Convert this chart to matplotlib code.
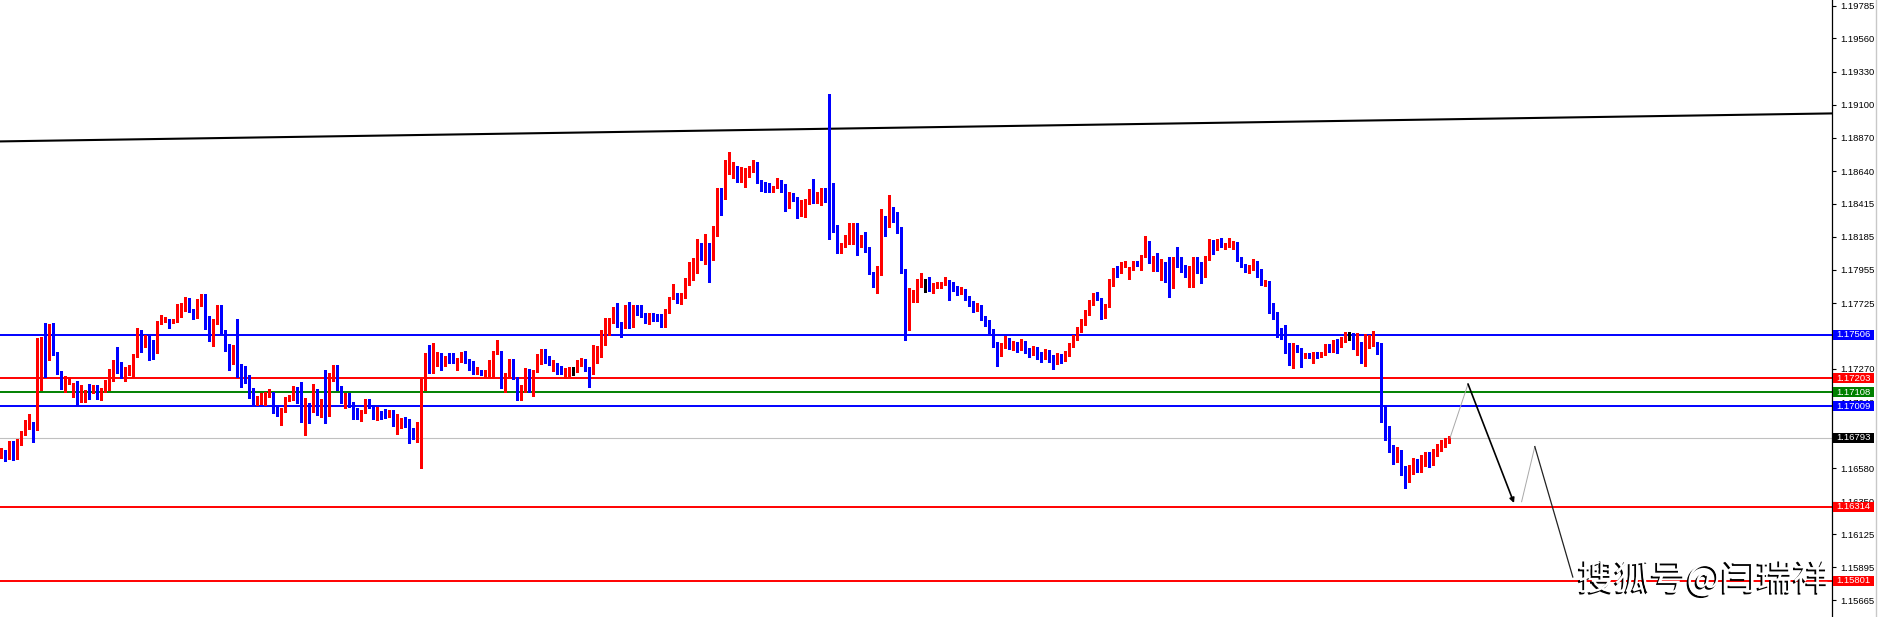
"""EURUSD-style candlestick chart with support/resistance levels (MT4 look)."""

import numpy as np
import matplotlib

matplotlib.use("Agg")
import matplotlib.pyplot as plt
import matplotlib.patheffects as pe
from matplotlib.lines import Line2D
from matplotlib.patches import Rectangle
from matplotlib.transforms import blended_transform_factory

# Candles, prices in points (1 point = 0.00001)
open_pts = [
    116666, 116707, 116652, 116763, 116680, 116763, 116825, 116867, 116902, 116853,
    117324, 117484, 117352, 117574, 117380, 117248, 117151, 117172, 117103, 117151,
    117047, 117109, 117123, 117116, 117137, 117075, 117109, 117137, 117248, 117324,
    117303, 117213, 117241, 117276, 117359, 117498, 117435, 117491, 117394, 117380,
    117595, 117608, 117615, 117588, 117601, 117671, 117698, 117740, 117678, 117629,
    117712, 117775, 117636, 117511, 117581, 117664, 117532, 117415, 117359, 117415,
    117297, 117213, 117179, 117089, 117047, 117047, 117033, 117096, 117109, 117019,
    116964, 116978, 117061, 117068, 117137, 117075, 116964, 117012, 116992, 117123,
    116985, 117040, 116992, 117193, 117269, 117137, 117040, 117054, 117033, 116992,
    116915, 116971, 117019, 117012, 116922, 116964, 116957, 116943, 116985, 116881,
    116895, 116922, 116908, 116846, 116811, 116818, 117144, 117380, 117262, 117297,
    117359, 117303, 117359, 117359, 117262, 117324, 117380, 117324, 117317, 117241,
    117262, 117241, 117241, 117297, 117380, 117394, 117158, 117206, 117338, 117213,
    117123, 117123, 117241, 117123, 117255, 117310, 117401, 117352, 117262, 117303,
    117276, 117241, 117248, 117262, 117262, 117297, 117331, 117276, 117234, 117317,
    117359, 117442, 117511, 117595, 117685, 117574, 117560, 117705, 117567, 117698,
    117685, 117650, 117588, 117643, 117622, 117615, 117608, 117657, 117754, 117789,
    117754, 117761, 117858, 117927, 117934, 118135, 118066, 118128, 118024, 118225,
    118509, 118453, 118627, 118634, 118655, 118586, 118586, 118613, 118641, 118696,
    118572, 118551, 118544, 118502, 118530, 118579, 118551, 118391, 118474, 118453,
    118343, 118371, 118426, 118488, 118426, 118426, 118516, 118502, 118336, 118232,
    118100, 118135, 118177, 118225, 118239, 118121, 118184, 118107, 117934, 117893,
    117927, 118308, 118260, 118371, 118357, 118253, 117948, 117595, 117768, 117747,
    117851, 117865, 117865, 117837, 117837, 117837, 117858, 117879, 117851, 117830,
    117803, 117817, 117761, 117726, 117685, 117705, 117622, 117595, 117539, 117442,
    117387, 117435, 117470, 117428, 117442, 117415, 117456, 117401, 117380, 117408,
    117366, 117352, 117387, 117345, 117331, 117359, 117338, 117373, 117435, 117484,
    117539, 117595, 117657, 117726, 117775, 117761, 117678, 117698, 117865, 117962,
    117941, 117983, 117899, 117962, 118003, 117990, 118045, 118142, 118031, 118045,
    117955, 117976, 117948, 117893, 118010, 118017, 117948, 117906, 117934, 117983,
    117941, 117976, 118031, 118107, 118100, 118156, 118114, 118121, 118135, 118149,
    118031, 117990, 117948, 117962, 118017, 117955, 117858, 117879, 117712, 117664,
    117546, 117491, 117422, 117303, 117422, 117415, 117352, 117373, 117352, 117380,
    117352, 117373, 117435, 117415, 117463, 117428, 117491, 117511, 117511, 117408,
    117449, 117317, 117422, 117435, 117456, 117387, 116964, 116832, 116728, 116652,
    116693, 116569, 116513, 116569, 116624, 116583, 116624, 116673, 116624, 116687,
    116721, 116749, 116770,
]
high_pts = [
    116721, 116707, 116770, 116770, 116784, 116839, 116915, 116957, 116902, 117484,
    117491, 117588, 117581, 117588, 117387, 117255, 117220, 117213, 117172, 117186,
    117158, 117123, 117165, 117158, 117158, 117137, 117193, 117269, 117331, 117422,
    117317, 117283, 117297, 117373, 117553, 117539, 117504, 117498, 117470, 117601,
    117643, 117629, 117615, 117615, 117719, 117726, 117768, 117761, 117685, 117754,
    117789, 117789, 117636, 117615, 117712, 117712, 117539, 117442, 117435, 117615,
    117303, 117290, 117227, 117137, 117082, 117103, 117109, 117130, 117109, 117019,
    116999, 117075, 117089, 117151, 117144, 117179, 117068, 117033, 117165, 117130,
    117061, 117262, 117241, 117297, 117297, 117151, 117103, 117103, 117040, 116999,
    116985, 117061, 117061, 117019, 117005, 116978, 116992, 116985, 116985, 116957,
    116929, 116936, 116922, 116860, 116902, 117200, 117380, 117435, 117449, 117387,
    117380, 117359, 117380, 117380, 117345, 117387, 117394, 117338, 117324, 117283,
    117262, 117262, 117331, 117394, 117470, 117394, 117241, 117338, 117338, 117213,
    117158, 117276, 117269, 117262, 117373, 117408, 117408, 117359, 117331, 117310,
    117290, 117276, 117283, 117283, 117331, 117345, 117338, 117283, 117435, 117428,
    117539, 117622, 117622, 117698, 117726, 117595, 117712, 117733, 117712, 117712,
    117712, 117657, 117657, 117657, 117650, 117650, 117685, 117768, 117858, 117796,
    117796, 117899, 118010, 118038, 118170, 118142, 118204, 118142, 118260, 118523,
    118523, 118717, 118772, 118703, 118676, 118669, 118662, 118676, 118717, 118703,
    118579, 118565, 118558, 118537, 118592, 118579, 118551, 118495, 118488, 118460,
    118440, 118446, 118516, 118586, 118495, 118523, 118523, 119175, 118558, 118267,
    118142, 118197, 118281, 118281, 118281, 118197, 118218, 118114, 117941, 117983,
    118378, 118329, 118474, 118391, 118357, 118253, 117962, 117830, 117817, 117893,
    117934, 117893, 117906, 117865, 117872, 117872, 117906, 117886, 117872, 117844,
    117837, 117823, 117775, 117740, 117726, 117712, 117636, 117608, 117546, 117456,
    117449, 117498, 117484, 117463, 117456, 117477, 117463, 117415, 117428, 117422,
    117387, 117408, 117401, 117366, 117380, 117373, 117394, 117449, 117504, 117560,
    117615, 117678, 117747, 117796, 117803, 117761, 117719, 117893, 117969, 117983,
    118010, 118017, 117976, 118017, 118017, 118059, 118190, 118156, 118052, 118073,
    118031, 118010, 118045, 118045, 118114, 118045, 117990, 117983, 118045, 118045,
    118010, 118052, 118170, 118163, 118170, 118177, 118142, 118177, 118156, 118149,
    118045, 117996, 117990, 118031, 118017, 117962, 117886, 117879, 117726, 117664,
    117553, 117574, 117449, 117449, 117435, 117415, 117380, 117380, 117387, 117387,
    117387, 117442, 117442, 117470, 117477, 117491, 117525, 117525, 117518, 117518,
    117456, 117511, 117504, 117532, 117456, 117449, 117019, 116874, 116742, 116728,
    116707, 116596, 116603, 116652, 116645, 116673, 116693, 116693, 116714, 116749,
    116777, 116791, 116805,
]
low_pts = [
    116652, 116631, 116645, 116638, 116645, 116742, 116811, 116853, 116763, 116846,
    117123, 117213, 117331, 117366, 117234, 117130, 117109, 117165, 117075, 117019,
    117040, 117040, 117061, 117103, 117061, 117054, 117109, 117123, 117186, 117241,
    117206, 117186, 117227, 117213, 117352, 117387, 117422, 117331, 117338, 117380,
    117581, 117595, 117553, 117588, 117595, 117629, 117671, 117664, 117615, 117622,
    117705, 117546, 117463, 117428, 117581, 117511, 117394, 117262, 117303, 117213,
    117144, 117172, 117068, 117026, 117019, 117026, 117019, 117075, 116964, 116943,
    116881, 116971, 117047, 117054, 117033, 116902, 116811, 116895, 116971, 116950,
    116936, 116895, 116943, 117186, 117123, 117033, 116999, 117005, 116922, 116922,
    116908, 116964, 116999, 116922, 116915, 116922, 116929, 116936, 116874, 116818,
    116860, 116867, 116756, 116784, 116763, 116583, 117123, 117241, 117241, 117290,
    117262, 117290, 117310, 117310, 117262, 117317, 117310, 117262, 117234, 117234,
    117227, 117213, 117206, 117206, 117373, 117137, 117109, 117206, 117200, 117054,
    117054, 117109, 117109, 117082, 117248, 117303, 117310, 117297, 117255, 117234,
    117234, 117206, 117220, 117227, 117248, 117290, 117255, 117144, 117234, 117310,
    117352, 117435, 117504, 117588, 117560, 117491, 117553, 117553, 117560, 117643,
    117629, 117588, 117581, 117601, 117601, 117560, 117560, 117657, 117754, 117726,
    117719, 117761, 117851, 117886, 117934, 118024, 117996, 117872, 118024, 118190,
    118336, 118446, 118620, 118592, 118565, 118565, 118530, 118599, 118634, 118558,
    118502, 118495, 118495, 118495, 118523, 118495, 118364, 118385, 118433, 118315,
    118329, 118322, 118412, 118419, 118419, 118405, 118426, 118170, 118218, 118073,
    118073, 118114, 118135, 118135, 118059, 118114, 118080, 117927, 117837, 117796,
    117920, 118190, 118253, 118288, 118211, 117934, 117470, 117539, 117733, 117733,
    117837, 117803, 117810, 117796, 117830, 117830, 117851, 117747, 117810, 117782,
    117789, 117747, 117705, 117664, 117671, 117608, 117567, 117518, 117422, 117290,
    117359, 117415, 117408, 117401, 117387, 117401, 117380, 117352, 117366, 117338,
    117317, 117338, 117317, 117269, 117303, 117310, 117324, 117359, 117422, 117470,
    117525, 117574, 117643, 117712, 117747, 117615, 117622, 117698, 117844, 117906,
    117934, 117976, 117893, 117955, 117983, 117955, 118045, 118003, 117948, 117948,
    117886, 117872, 117768, 117830, 117976, 117941, 117906, 117837, 117837, 117934,
    117865, 117906, 118024, 118066, 118094, 118114, 118100, 118114, 118100, 118017,
    117976, 117941, 117934, 117955, 117906, 117851, 117844, 117657, 117615, 117491,
    117477, 117380, 117297, 117276, 117387, 117283, 117345, 117345, 117310, 117345,
    117352, 117366, 117387, 117387, 117380, 117422, 117456, 117470, 117408, 117366,
    117310, 117290, 117415, 117428, 117373, 116902, 116777, 116693, 116610, 116624,
    116534, 116444, 116486, 116541, 116555, 116555, 116596, 116589, 116603, 116666,
    116700, 116728, 116756,
]
close_pts = [
    116707, 116652, 116763, 116680, 116770, 116825, 116874, 116908, 116853, 117331,
    117477, 117352, 117574, 117380, 117241, 117158, 117172, 117200, 117151, 117047,
    117109, 117123, 117109, 117144, 117075, 117116, 117144, 117262, 117317, 117297,
    117213, 117248, 117283, 117366, 117504, 117435, 117491, 117387, 117380, 117601,
    117615, 117622, 117588, 117608, 117678, 117705, 117740, 117671, 117622, 117719,
    117775, 117629, 117511, 117588, 117664, 117525, 117408, 117359, 117415, 117303,
    117213, 117172, 117075, 117047, 117068, 117068, 117109, 117109, 117012, 116964,
    116985, 117075, 117075, 117137, 117075, 116964, 117005, 116992, 117123, 116985,
    117040, 116985, 117200, 117269, 117130, 117040, 117054, 117033, 116992, 116929,
    116978, 117019, 117005, 116922, 116964, 116950, 116943, 116985, 116881, 116902,
    116922, 116902, 116846, 116811, 116825, 117151, 117380, 117262, 117310, 117359,
    117303, 117345, 117324, 117310, 117338, 117380, 117317, 117310, 117241, 117262,
    117234, 117248, 117297, 117387, 117408, 117158, 117213, 117338, 117206, 117109,
    117158, 117241, 117123, 117262, 117310, 117401, 117345, 117303, 117297, 117269,
    117241, 117269, 117262, 117262, 117303, 117331, 117269, 117234, 117324, 117359,
    117456, 117518, 117601, 117685, 117574, 117560, 117705, 117567, 117705, 117678,
    117636, 117595, 117650, 117615, 117608, 117608, 117664, 117761, 117789, 117754,
    117768, 117865, 117934, 117941, 118128, 118066, 118128, 118024, 118225, 118509,
    118453, 118634, 118648, 118655, 118586, 118655, 118648, 118648, 118696, 118565,
    118544, 118537, 118502, 118530, 118586, 118551, 118391, 118474, 118446, 118343,
    118391, 118426, 118495, 118426, 118488, 118516, 118495, 118329, 118225, 118107,
    118142, 118184, 118239, 118239, 118121, 118184, 118107, 117934, 117893, 117934,
    118308, 118260, 118371, 118350, 118232, 117934, 117539, 117810, 117796, 117865,
    117865, 117865, 117837, 117858, 117858, 117865, 117879, 117851, 117830, 117803,
    117817, 117761, 117726, 117685, 117705, 117622, 117595, 117539, 117442, 117387,
    117435, 117470, 117428, 117442, 117415, 117456, 117401, 117380, 117408, 117366,
    117352, 117387, 117345, 117331, 117359, 117338, 117373, 117435, 117484, 117539,
    117595, 117657, 117726, 117775, 117768, 117678, 117712, 117872, 117955, 117948,
    117990, 118003, 117969, 118003, 117990, 118052, 118142, 118038, 118045, 117962,
    117976, 117934, 117893, 118017, 118003, 117948, 117906, 117969, 117983, 117934,
    117906, 118038, 118107, 118094, 118156, 118121, 118128, 118142, 118149, 118024,
    117983, 117955, 117969, 118017, 117913, 117858, 117879, 117705, 117657, 117491,
    117484, 117415, 117366, 117422, 117401, 117310, 117373, 117352, 117380, 117352,
    117380, 117435, 117401, 117463, 117422, 117491, 117511, 117511, 117415, 117449,
    117317, 117422, 117449, 117456, 117380, 116964, 116797, 116721, 116638, 116700,
    116555, 116500, 116583, 116624, 116583, 116645, 116673, 116617, 116693, 116735,
    116756, 116777, 116791,
]

# Horizontal levels and their tags
level_prices = [1.17506, 1.17203, 1.17108, 1.17009, 1.16314, 1.15801]
level_colors = ["#0000ff", "#ff0000", "#008000", "#0000ff", "#ff0000", "#ff0000"]
bid_price = 1.16793

# Axis ticks on the price scale (1.17495 sits fully under the 1.17506 tag)
tick_prices = [1.19785, 1.19560, 1.19330, 1.19100, 1.18870, 1.18640, 1.18415,
               1.18185, 1.17955, 1.17725, 1.17270, 1.17040, 1.16810,
               1.16580, 1.16350, 1.16125, 1.15895, 1.15665]

# Long trendline (bar index, price) and projected path drawn by hand
trend_x = [-0.3, 457.7]
trend_y = [1.18846, 1.19040]
proj1_x = [362.2, 366.7, 378.2]
proj1_y = [1.16791, 1.17165, 1.16340]
proj2_x = [380.1, 383.4, 392.9]
proj2_y = [1.16349, 1.16731, 1.15827]

UP = "#ff0000"
DOWN = "#0000ff"

W, H = 1879, 617
AX_RIGHT = 1832


def main():
    o = np.array(open_pts) / 1e5
    h = np.array(high_pts) / 1e5
    l = np.array(low_pts) / 1e5
    c = np.array(close_pts) / 1e5
    x = np.arange(len(o))
    colors = np.where(c > o, UP, np.where(c < o, DOWN, "#000000"))

    fig = plt.figure(figsize=(W / 100, H / 100), dpi=100)
    ax = fig.add_axes([0, 0, AX_RIGHT / W, 1])
    ax.set_xlim(-0.325, 457.7)
    ax.set_ylim(1.15550, 1.19826)

    # candles
    ax.vlines(x, l, h, colors=colors, lw=0.75, antialiased=False, zorder=3)
    body = np.maximum(np.abs(c - o), 0.00006)
    ax.bar(x, body, bottom=np.minimum(o, c), width=0.72, color=colors,
           linewidth=0, antialiased=False, zorder=3)

    # levels
    for p, col in zip(level_prices, level_colors):
        ax.axhline(p, color=col, lw=1.4, zorder=2)
    ax.axhline(bid_price, color="#c0c0c0", lw=0.8, zorder=1)

    # trendline + projection
    ax.plot(trend_x, trend_y, color="black", lw=1.5, zorder=2)
    ax.plot(proj1_x[:2], proj1_y[:2], color="#a8a8a8", lw=0.7, zorder=4)
    ax.annotate("", xy=(proj1_x[2], proj1_y[2]), xytext=(proj1_x[1], proj1_y[1]),
                arrowprops=dict(arrowstyle="-|>", color="black", lw=1.2,
                                mutation_scale=7, shrinkA=0, shrinkB=0), zorder=4)
    ax.plot(proj2_x[:2], proj2_y[:2], color="#a8a8a8", lw=0.7, zorder=4)
    ax.plot(proj2_x[1:], proj2_y[1:], color="#222222", lw=0.9, zorder=4)

    # price scale
    for side in ("top", "bottom", "left"):
        ax.spines[side].set_visible(False)
    ax.spines["right"].set_linewidth(0.9)
    ax.set_xticks([])
    ax.yaxis.tick_right()
    ax.set_yticks(tick_prices)
    ax.set_yticklabels([f"{t:.5f}" for t in tick_prices])
    ax.tick_params(axis="y", direction="out", length=3, width=0.8, pad=3,
                   labelsize=6.8, colors="black")
    for lab in ax.get_yticklabels():
        lab.set_fontfamily("Liberation Sans")

    # coloured price tags on the scale
    trans = blended_transform_factory(fig.transFigure, ax.transData)
    tag_h = 10 * (1.19826 - 1.15550) / H
    tags = list(zip(level_prices, level_colors)) + [(bid_price, "#000000")]
    for p, col in tags:
        ax.add_patch(Rectangle(((AX_RIGHT + 1) / W, p - tag_h / 2), 41 / W, tag_h,
                               transform=trans, facecolor=col, edgecolor="none",
                               clip_on=False, zorder=10))
        ax.text((AX_RIGHT + 4) / W, p, f"{p:.5f}", transform=trans, color="white",
                fontsize=6.8, family="Liberation Sans", va="center", ha="left",
                clip_on=False, zorder=11)

    fig.add_artist(Line2D([1876 / W, 1876 / W], [0, 1], transform=fig.transFigure,
                          color="#c8c8c8", lw=1))

    # watermark
    fig.text(1829 / W, 1 - 590 / H, "搜狐号@闫瑞祥", ha="right", va="baseline",
             fontsize=26, color="white", family=["Noto Sans CJK SC", "DejaVu Sans"],
             zorder=20,
             path_effects=[pe.withSimplePatchShadow(offset=(-1.3, -1.3),
                                                    shadow_rgbFace="black",
                                                    alpha=1.0)])

    fig.savefig("out.png", dpi=100, facecolor="white")


if __name__ == "__main__":
    main()
